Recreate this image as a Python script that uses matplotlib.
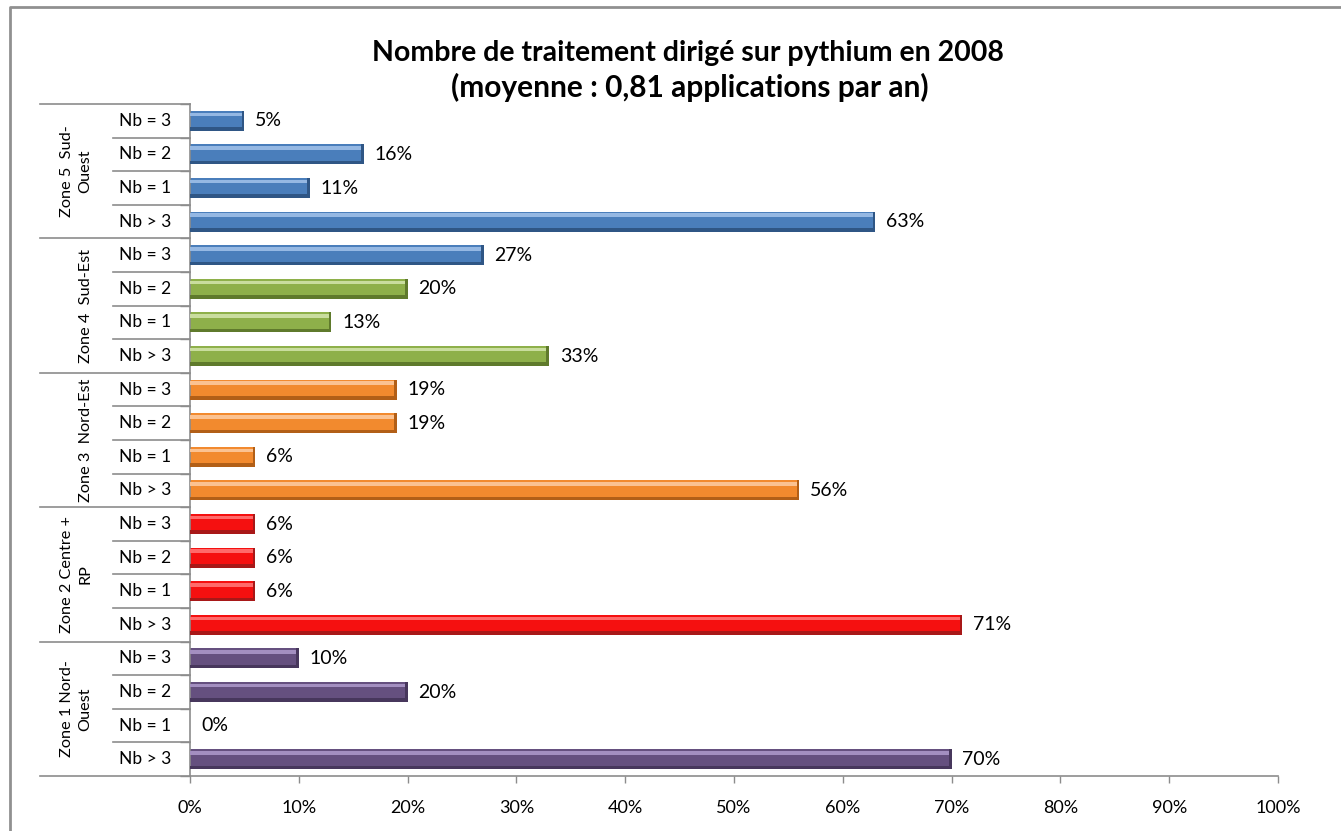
import matplotlib.pyplot as plt
from matplotlib.transforms import blended_transform_factory
from matplotlib.lines import Line2D

# Zones from top to bottom, each with four rows
zones = [
    "Zone 5  Sud-\nOuest",
    "Zone 4  Sud-Est",
    "Zone 3  Nord-Est",
    "Zone 2 Centre +\nRP",
    "Zone 1 Nord-\nOuest",
]
rows = ["Nb = 3", "Nb = 2", "Nb = 1", "Nb > 3"]

zone5 = [5, 16, 11, 63]
zone4 = [27, 20, 13, 33]
zone3 = [19, 19, 6, 56]
zone2 = [6, 6, 6, 71]
zone1 = [10, 20, 0, 70]
values = zone5 + zone4 + zone3 + zone2 + zone1

title_lines = ["Nombre de traitement dirigé sur pythium en 2008",
               "(moyenne : 0,81 applications par an)"]

# (base, light, dark) per bar; first bar of zone 4 stays blue
blue = ("#4A7EBB", "#95B8E3", "#2F5685")
green = ("#8EB04A", "#C9DD9E", "#5F7A2C")
orange = ("#F28A2E", "#FBC291", "#B25F17")
red = ("#F51010", "#FF6A6A", "#A81818")
purple = ("#65507F", "#A38FC0", "#47375C")
bar_colors = [blue] * 5 + [green] * 3 + [orange] * 4 + [red] * 4 + [purple] * 4

line_grey = "#8C8C8C"
plt.rcParams["font.family"] = ["Lato", "DejaVu Sans"]

fig = plt.figure(figsize=(13.41, 8.31), dpi=100)
W, H = 1341, 831
x0, x1, y_top, y_bot = 190, 1278, 104, 776
ax = fig.add_axes([x0 / W, 1 - y_bot / H, (x1 - x0) / W, (y_bot - y_top) / H])

n = len(values)
pos = list(range(n))
bh = 0.6

# bevelled bars: base, light top band, dark bottom band, dark end cap
ax.barh(pos, values, height=bh, color=[c[0] for c in bar_colors], zorder=2)
ax.barh([p - bh * 0.32 for p in pos], values, height=bh * 0.18,
        color=[c[1] for c in bar_colors], zorder=3)
ax.barh([p + bh * 0.41 for p in pos], values, height=bh * 0.18,
        color=[c[2] for c in bar_colors], zorder=3)
ax.barh(pos, [0.25 if v > 0 else 0 for v in values], left=[v - 0.25 for v in values],
        height=bh, color=[c[2] for c in bar_colors], zorder=4)

for p, v in zip(pos, values):
    ax.text(v + 1.0, p, f"{v}%", va="center", ha="left", fontsize=14, color="black")

ax.set_xlim(0, 100)
ax.set_ylim(n - 0.5, -0.5)
ax.set_xticks(range(0, 101, 10))
ax.set_xticklabels([f"{t}%" for t in range(0, 101, 10)], fontsize=13)
ax.tick_params(axis="x", length=5, width=1, color=line_grey, direction="out", pad=12)
ax.set_yticks([i + 0.5 for i in range(-1, n)])
ax.set_yticklabels([])
ax.tick_params(axis="y", length=7, width=1, color=line_grey, direction="out")
for side in ("top", "right"):
    ax.spines[side].set_visible(False)
for side in ("left", "bottom"):
    ax.spines[side].set_color(line_grey)
    ax.spines[side].set_linewidth(1.2)

# multi-level category table on the left
tr = blended_transform_factory(ax.transAxes, ax.transData)
xi = (113 - x0) / (x1 - x0)
xo = (40 - x0) / (x1 - x0)
xl = (145 - x0) / (x1 - x0)
for i in range(n):
    ax.text(xl, i, rows[i % 4], transform=tr, ha="center",
            va="center", fontsize=12.5)
    if i % 4 != 3:
        ax.add_line(Line2D([xi, 0], [i + 0.5, i + 0.5], transform=tr,
                           color=line_grey, lw=1.2, clip_on=False))
for g in range(len(zones) + 1):
    yb = g * 4 - 0.5
    ax.add_line(Line2D([xo, 0], [yb, yb], transform=tr, color=line_grey,
                       lw=1.2, clip_on=False))
for g, z in enumerate(zones):
    xc = (xo + xi) / 2 + (0.0 if "\n" in z else 0.009)
    ax.text(xc, g * 4 + 1.5, z, transform=tr, rotation=90, ha="center",
            va="center", fontsize=11.7, linespacing=1.4, multialignment="center")

fig.text(688 / W, 1 - 53 / H, title_lines[0], ha="center", va="center",
         fontsize=20.5, fontweight="bold")
fig.text(690 / W, 1 - 87 / H, title_lines[1], ha="center", va="center",
         fontsize=21.5, fontweight="bold")

# chart frame
fig.add_artist(Line2D([10 / W, 10 / W, 1.0], [0.0, 1 - 7 / H, 1 - 7 / H],
                      transform=fig.transFigure, color="#909090", lw=2))

fig.savefig("out.png", dpi=100)
